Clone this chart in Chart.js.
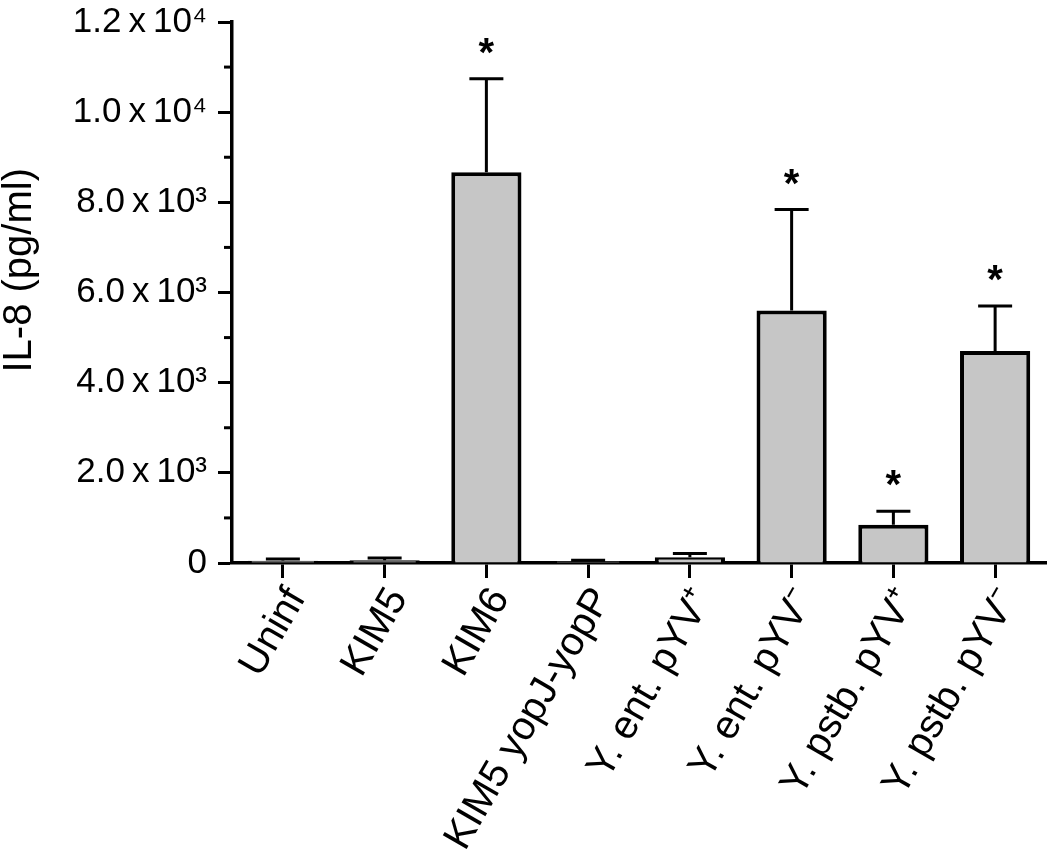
<!DOCTYPE html>
<html>
<head>
<meta charset="utf-8">
<script src="https://cdn.jsdelivr.net/npm/chart.js@4.4.1/dist/chart.umd.min.js"></script>
<style>
  html, body { margin: 0; padding: 0; background: #ffffff; }
  #wrap { width: 1050px; height: 865px; position: relative; }
</style>
</head>
<body>
<div id="wrap"><canvas id="c" width="1050" height="865"></canvas></div>
<script>
// ---- data ----
const categories = ["Uninf", "KIM5", "KIM6", "KIM5 yopJ-yopP", "Y. ent. pYV\u207A", "Y. ent. pYV\u207B", "Y. pstb. pYV\u207A", "Y. pstb. pYV\u207B"];
const il8Means = [50, 60, 8670, 40, 130, 5600, 850, 4700];
const il8Errors = [40, 50, 2070, 20, 80, 2240, 300, 1000];
const significant = [false, false, true, false, false, true, true, true];
const yTickValues = [0, 2000, 4000, 6000, 8000, 10000, 12000];
const yTickLabels = ["0", "2.0\u2009x\u200910\u00B3", "4.0\u2009x\u200910\u00B3", "6.0\u2009x\u200910\u00B3", "8.0\u2009x\u200910\u00B3", "1.0\u2009x\u200910\u2074", "1.2\u2009x\u200910\u2074"];
const yAxisTitle = "IL-8 (pg/ml)";

const FONT = "'Liberation Sans', Arial, Helvetica, sans-serif";

const errorBarPlugin = {
  id: 'errorBars',
  afterDatasetsDraw(chart) {
    const ctx = chart.ctx;
    const meta = chart.getDatasetMeta(0);
    const y = chart.scales.y;
    ctx.save();
    ctx.strokeStyle = '#000';
    ctx.lineWidth = 3;
    ctx.lineCap = 'butt';
    meta.data.forEach((bar, i) => {
      const x = bar.x;
      const yTop = y.getPixelForValue(il8Means[i] + il8Errors[i]);
      const yVal = y.getPixelForValue(il8Means[i]);
      ctx.beginPath();
      ctx.moveTo(x, yVal);
      ctx.lineTo(x, yTop);
      ctx.moveTo(x - 17, yTop);
      ctx.lineTo(x + 17, yTop);
      ctx.stroke();
      if (significant[i]) {
        ctx.fillStyle = '#000';
        ctx.font = "bold 40px " + FONT;
        ctx.textAlign = 'center';
        ctx.textBaseline = 'middle';
        ctx.fillText('*', x, yTop - 24);
      }
    });
    // minor ticks on y axis
    const left = chart.chartArea.left;
    for (let v = 1000; v < 12000; v += 2000) {
      const py = y.getPixelForValue(v);
      ctx.beginPath();
      ctx.moveTo(left - 8, py);
      ctx.lineTo(left, py);
      ctx.stroke();
    }
    ctx.restore();
  }
};

new Chart(document.getElementById('c'), {
  type: 'bar',
  data: {
    labels: categories,
    datasets: [{
      data: il8Means,
      backgroundColor: '#c6c6c6',
      borderColor: '#000000',
      borderWidth: 4,
      borderSkipped: 'bottom',
      barPercentage: 0.69,
      categoryPercentage: 1.0
    }]
  },
  options: {
    responsive: false,
    animation: false,
    devicePixelRatio: 1,
    layout: { padding: { top: 22, right: 4, left: 0, bottom: 0 } },
    plugins: { legend: { display: false }, tooltip: { enabled: false } },
    scales: {
      x: {
        offset: true,
        border: { display: true, color: '#000', width: 3.5 },
        grid: { display: true, drawOnChartArea: false, offset: false, color: '#000', tickLength: 15, tickWidth: 3 },
        ticks: {
          color: '#000',
          font: { family: FONT, size: 40 },
          minRotation: 60, maxRotation: 60,
          padding: 2,
          labelOffset: 14,
          autoSkip: false
        },
        afterFit(scale) { scale.height = 302; scale.paddingLeft = 0; scale.paddingRight = 0; }
      },
      y: {
        min: 0, max: 12000,
        border: { display: true, color: '#000', width: 3.5 },
        grid: { display: true, drawOnChartArea: false, color: '#000', tickLength: 14, tickWidth: 3 },
        afterBuildTicks(scale) { scale.ticks = yTickValues.map(v => ({ value: v })); },
        ticks: {
          color: '#000',
          font: { family: FONT, size: 35 },
          padding: 11,
          callback(value) { const i = yTickValues.indexOf(value); return i >= 0 ? yTickLabels[i] : ''; }
        },
        title: { display: true, text: "    " + yAxisTitle, color: '#000', font: { family: FONT, size: 40 }, padding: { top: -4, bottom: 0 } },
        afterFit(scale) { scale.width = 232; scale.paddingTop = 0; scale.paddingBottom = 0; }
      }
    }
  },
  plugins: [errorBarPlugin]
});
</script>
</body>
</html>
